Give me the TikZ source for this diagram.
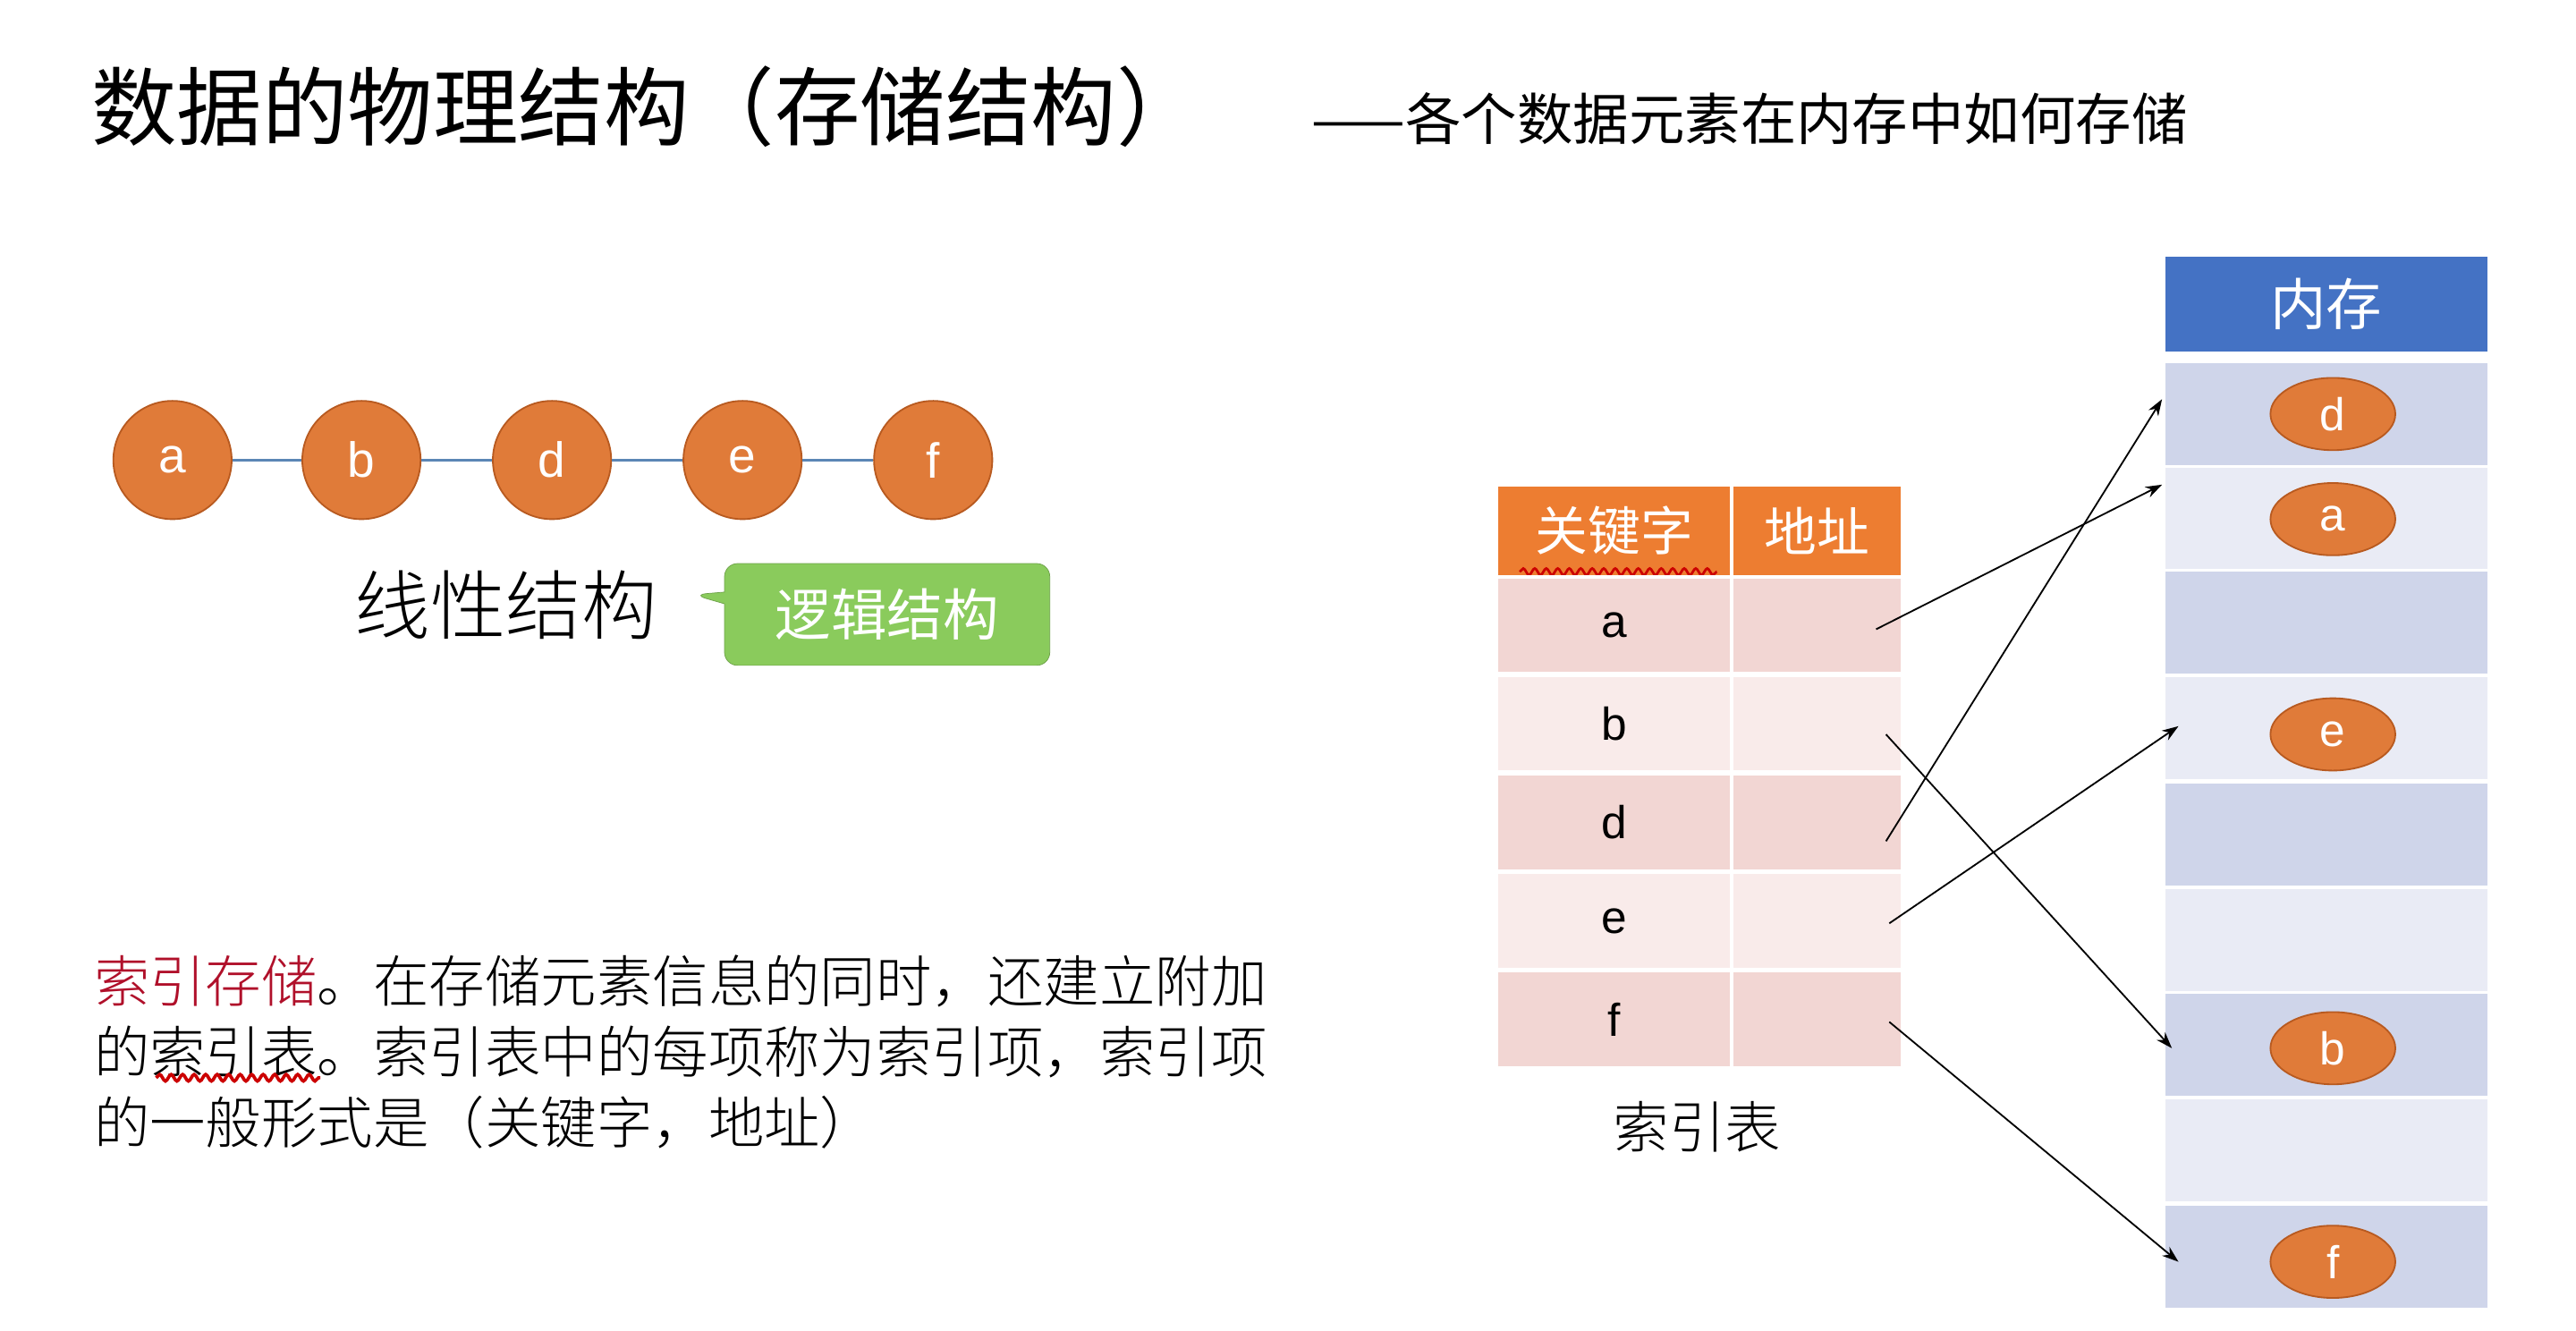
\documentclass[tikz,border=0pt]{standalone}
\usepackage{fontspec}
\setmainfont{Liberation Sans}
\newfontfamily\cjk{Noto Sans CJK SC}
\newfontfamily\cjkl{Noto Sans CJK SC Light}
\usetikzlibrary{shapes.geometric,shapes.callouts,decorations.pathmorphing,arrows.meta}
\definecolor{org}{HTML}{E07B39}
\definecolor{orgd}{HTML}{B85A20}
\definecolor{hdr}{HTML}{ED7D31}
\definecolor{rowA}{HTML}{F2D6D3}
\definecolor{rowB}{HTML}{F9EBEA}
\definecolor{memA}{HTML}{CFD5EA}
\definecolor{memB}{HTML}{E9EBF5}
\definecolor{memH}{HTML}{4472C4}
\definecolor{grn}{HTML}{8ACB5C}
\definecolor{dred}{HTML}{B0102A}
\definecolor{linec}{HTML}{5B86B5}
\newcommand{\fs}[1]{\fontsize{#1}{#1}\selectfont}
\tikzset{
 circ/.style={circle,fill=org,draw=orgd,line width=1pt,minimum size=72pt,inner sep=0,text=white,font=\fs{30}},
 cell/.style={draw=white,line width=2pt,minimum height=59pt,inner sep=0,anchor=north west,font=\fs{28}},
 mem/.style={draw=white,line width=2pt,anchor=north west,minimum width=198pt,inner sep=0},
 ell/.style={ellipse,fill=org,draw=orgd,line width=1pt,minimum width=76pt,minimum height=44pt,inner sep=0,text=white,font=\fs{28}},
 arr/.style={-{Stealth[length=10pt,width=7pt]},line width=1pt},
 wavy/.style={draw=red!80!black,line width=2pt,decorate,decoration={snake,amplitude=2pt,segment length=7pt}}
}
\begin{document}
\begin{tikzpicture}[x=1pt,y=-1pt]
\useasboundingbox[fill=white] (0,0) rectangle (1568,810);
\node[anchor=west,font=\cjk\fs{52}] (title) at (52,65) {数据的物理结构（存储结构）};
\node[anchor=west,font=\cjk\fs{34}] (sub) at (795,72) {——各个数据元素在内存中如何存储};
% chain
\foreach \n/\x in {a/105,b/220,d/336,e/452,f/568}{\node[circ] (c\n) at (\x,280) {\n};}
\foreach \p/\q in {a/b,b/d,d/e,e/f}{\draw[linec,line width=1.5pt] (c\p) -- (c\q);}
\node[font=\cjkl\fs{46}] (lin) at (308,368) {线性结构};
\node[rectangle callout,rounded corners=8pt,fill=grn,draw=grn!80!black,minimum width=198pt,minimum height=62pt,callout absolute pointer={(422,362)},text=white,font=\cjk\fs{34}] (logic) at (540,374) {逻辑结构};
% paragraph
\node[anchor=west,font=\cjkl\fs{34},inner sep=0] (p1) at (57,597) {\textcolor{dred}{索引存储}。在存储元素信息的同时，还建立附加};
\node[anchor=west,font=\cjkl\fs{34},inner sep=0] (p2) at (57,640) {的索引表。索引表中的每项称为索引项，索引项};
\node[anchor=west,font=\cjkl\fs{34},inner sep=0] (p3) at (57,683) {的一般形式是（关键字，地址）};
\draw[wavy] (95,656) -- (195,656);
% index table
\node[cell,fill=hdr,minimum width=143pt,minimum height=56pt,text=white,font=\cjk\fs{32}] (h1) at (910,294) {关键字};
\node[cell,fill=hdr,minimum width=104pt,minimum height=56pt,text=white,font=\cjk\fs{32}] (h2) at (1053,294) {地址};
\draw[wavy,line width=1.5pt] (925,348) -- (1045,348);
\foreach \n/\y/\c in {a/350/rowA,b/410/rowB,d/470/rowA,e/530/rowB,f/590/rowA}{
 \node[cell,fill=\c,minimum width=143pt] (k\n) at (910,\y) {\n};
 \node[cell,fill=\c,minimum width=104pt] (v\n) at (1053,\y) {};
}
\node[font=\cjkl\fs{34}] (ilabel) at (1033,686) {索引表};
% memory
\node[mem,fill=memH,minimum height=60pt,text=white,font=\cjk\fs{34}] (mh) at (1316,154) {内存};
\foreach \i/\y/\c in {1/219/memA,2/283/memB,3/346/memA,4/410/memB,5/475/memA,6/539/memB,7/603/memA,8/667/memB,9/732/memA}{
 \node[mem,fill=\c,minimum height=64pt] (m\i) at (1316,\y) {};
}
\node[ell] (md) at (1420,252) {d};
\node[ell] (ma) at (1420,316) {a};
\node[ell] (me) at (1420,447) {e};
\node[ell] (mb) at (1420,638) {b};
\node[ell] (mf) at (1420,768) {f};
% arrows
\coordinate (sa) at (1142,383); \coordinate (ta) at (1316,295);
\coordinate (sb) at (1148,447); \coordinate (tb) at (1322,638);
\coordinate (sd) at (1148,512); \coordinate (td) at (1316,243);
\coordinate (se) at (1150,562); \coordinate (te) at (1326,442);
\coordinate (sf) at (1150,622); \coordinate (tf) at (1326,768);
\foreach \n in {a,b,d,e,f}{\draw[arr] (s\n) -- (t\n);}
\end{tikzpicture}
\end{document}
